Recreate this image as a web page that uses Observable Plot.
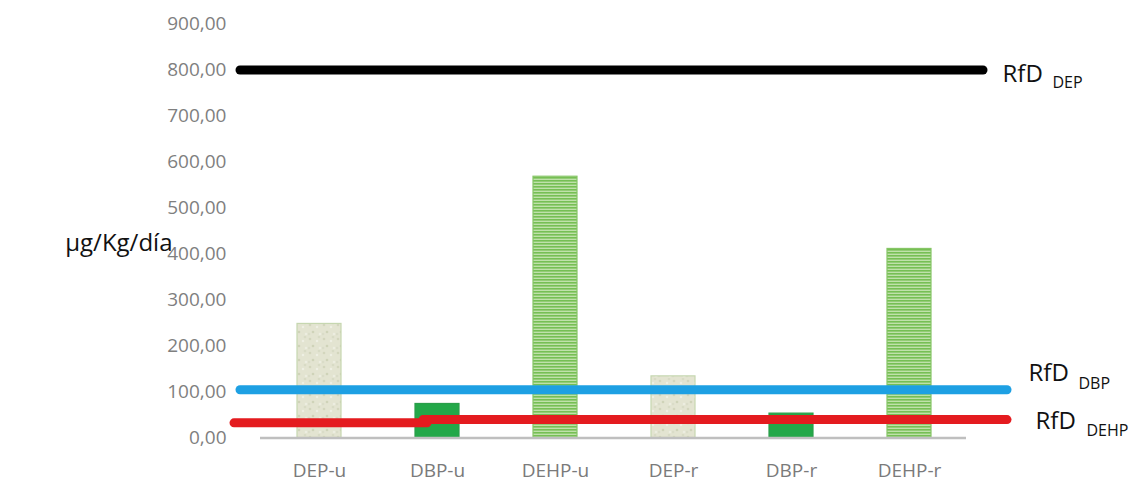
<!DOCTYPE html>
<html>
<head>
<meta charset="utf-8">
<script src="https://cdn.jsdelivr.net/npm/d3@7"></script>
<script src="https://cdn.jsdelivr.net/npm/@observablehq/plot@0.6"></script>
<style>
  html, body { margin: 0; padding: 0; background: #fff; }
  #chart svg { display: block; }
</style>
</head>
<body>
<div id="chart"></div>
<script>
// ---- data ----
const categories = ["DEP-u", "DBP-u", "DEHP-u", "DEP-r", "DBP-r", "DEHP-r"];
const compounds  = ["DEP", "DBP", "DEHP", "DEP", "DBP", "DEHP"];
const values     = [248, 74, 568, 134, 53, 411];
const yTicks     = [0, 100, 200, 300, 400, 500, 600, 700, 800, 900];
const yLabel     = "µg/Kg/día";
const rfdNames   = ["DEP", "DBP", "DEHP"];
const rfdValues  = [800, 105, 40];     // level of each RfD line (right part)
const rfdDEHPLeft = 33;                // left part of the DEHP line
const rfdPrefix  = "RfD";

// ---- styles ----
const fillFor = {DEP: "url(#pat-dep)", DBP: "#23a849", DEHP: "url(#pat-dehp)"};
const strokeFor = {DEP: "#c6d7b0", DBP: "#2a9e4a", DEHP: "#86c566"};
const rfdColor = {DEP: "#000000", DBP: "#1ea0e3", DEHP: "#e41b1f"};

const rows = categories.map((c, i) => ({category: c, compound: compounds[i], value: values[i]}));
const fmt = d => d3.format(".2f")(d).replace(".", ",");
const first = categories[0], second = categories[1], last = categories[categories.length - 1];

const svg = Plot.plot({
  width: 1132,
  height: 481,
  marginLeft: 240,
  marginRight: 125,
  marginTop: 23.5,
  marginBottom: 43.5,
  style: {fontFamily: "'Open Sans', sans-serif", background: "#fff"},
  x: {domain: categories, paddingInner: 0.63, paddingOuter: 0.565, align: 0.428, axis: null},
  y: {domain: [0, 900], axis: null},
  color: {type: "identity"},
  marks: [
    Plot.axisY(yTicks, {tickSize: 0, tickPadding: 14, tickFormat: fmt, fontSize: 19, color: "#7f7f7f", label: null}),
    Plot.axisX(categories, {tickSize: 0, tickPadding: 25, fontSize: 19, color: "#7a7a7a", label: null}),
    Plot.barY(rows, {x: "category", y: "value",
      fill: d => fillFor[d.compound], stroke: d => strokeFor[d.compound], strokeWidth: 1.2}),
    Plot.ruleY([0], {stroke: "#bfbfbf", strokeWidth: 2.5, insetLeft: 20, insetRight: 41}),
    // RfD lines
    Plot.ruleY([rfdValues[0]], {stroke: rfdColor.DEP, strokeWidth: 9, strokeLinecap: "round", insetRight: 24}),
    Plot.ruleY([rfdValues[1]], {stroke: rfdColor.DBP, strokeWidth: 9, strokeLinecap: "round"}),
    Plot.ruleY([rfdDEHPLeft], {x1: () => first, x2: () => second, stroke: rfdColor.DEHP, strokeWidth: 9,
      strokeLinecap: "round", insetLeft: -63, insetRight: 32}),
    Plot.ruleY([rfdValues[2]], {x1: () => second, x2: () => last, stroke: rfdColor.DEHP, strokeWidth: 9,
      strokeLinecap: "round", insetLeft: 8, insetRight: -76}),
    // RfD labels
    Plot.text([rfdValues[0]], {y: d => d, text: () => rfdPrefix, frameAnchor: "right", textAnchor: "start", dx: -5, dy: 4.5, fontSize: 24, fill: "#111"}),
    Plot.text([rfdValues[0]], {y: d => d, text: () => rfdNames[0], frameAnchor: "right", textAnchor: "start", dx: 45, dy: 13, fontSize: 16, fill: "#111"}),
    Plot.text([rfdValues[1]], {y: d => d, text: () => rfdPrefix, frameAnchor: "right", textAnchor: "start", dx: 21, dy: -16, fontSize: 24, fill: "#111"}),
    Plot.text([rfdValues[1]], {y: d => d, text: () => rfdNames[1], frameAnchor: "right", textAnchor: "start", dx: 71, dy: -5.5, fontSize: 16, fill: "#111"}),
    Plot.text([rfdValues[2]], {y: d => d, text: () => rfdPrefix, frameAnchor: "right", textAnchor: "start", dx: 28, dy: 1.5, fontSize: 24, fill: "#111"}),
    Plot.text([rfdValues[2]], {y: d => d, text: () => rfdNames[2], frameAnchor: "right", textAnchor: "start", dx: 79, dy: 11.5, fontSize: 16, fill: "#111"}),
    // y label
    Plot.text([yLabel], {text: d => d, frameAnchor: "left", textAnchor: "end", dx: -68, dy: 12, fontSize: 24, fill: "#111"})
  ]
});

// patterns for the bar fills
const defs = d3.select(svg).insert("defs", ":first-child");
const pDep = defs.append("pattern").attr("id", "pat-dep").attr("patternUnits", "userSpaceOnUse")
  .attr("width", 14).attr("height", 14);
pDep.append("rect").attr("width", 14).attr("height", 14).attr("fill", "#e3e4d1");
[[2,3,"#d3d6bd"],[9,5,"#eeefe3"],[5,10,"#cfd3b8"],[12,12,"#ecede0"],[11,1,"#d8dbc5"],[1,12,"#dadcc8"]]
  .forEach(([cx, cy, c]) => pDep.append("circle").attr("cx", cx).attr("cy", cy).attr("r", 1.3).attr("fill", c));
const pDehp = defs.append("pattern").attr("id", "pat-dehp").attr("patternUnits", "userSpaceOnUse")
  .attr("width", 6).attr("height", 3);
pDehp.append("rect").attr("width", 6).attr("height", 3).attr("fill", "#bfe1aa");
pDehp.append("rect").attr("width", 6).attr("height", 1.6).attr("fill", "#76bf54");

document.getElementById("chart").appendChild(svg);
</script>
</body>
</html>
